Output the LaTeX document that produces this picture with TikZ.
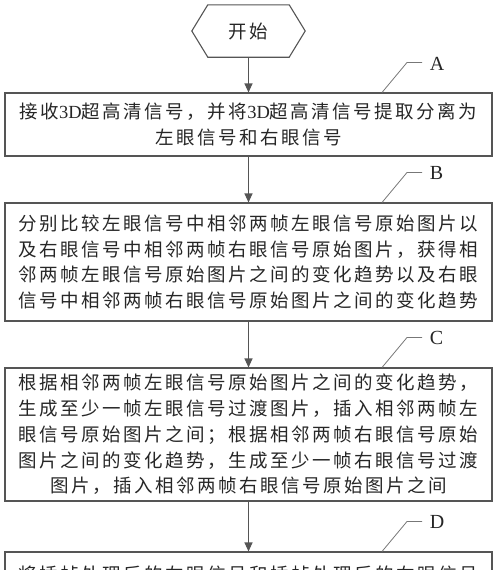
\documentclass[tikz,border=0pt]{standalone}
\usepackage{fontspec}
\setmainfont{Liberation Serif}
\newfontfamily\cjk[LetterSpace=13.5]{Noto Sans CJK SC}
\newcommand{\lat}[1]{{\rmfamily #1}}
\usetikzlibrary{calc,arrows.meta}
\definecolor{edge}{HTML}{555555}
\tikzset{
  box/.style={draw=edge, line width=1.1pt, rectangle, minimum width=487pt, align=center, inner sep=0pt,
    font=\cjk\fontsize{18.5}{25.7}\selectfont, text=black!85},
  flow/.style={draw=edge, line width=1.1pt, -{Triangle[length=9pt,width=8pt]}},
  leader/.style={draw=edge!80, line width=0.8pt},
  tag/.style={font=\fontsize{20}{22}\selectfont, text=black!85, inner sep=0pt},
  startbox/.style={rectangle, minimum width=81pt, minimum height=52pt, inner sep=0pt,
    font=\cjk\fontsize{18.5}{20}\selectfont, text=black!85}
}
\begin{document}
\begin{tikzpicture}[x=1pt,y=-1pt]
\useasboundingbox (0,0) rectangle (500,570);
\clip (0,0) rectangle (500,570);
\node[startbox] (start) at (248.5,31) {开始};
\draw[draw=edge, line width=1.1pt] (start.north west) -- (start.north east) -- ($(start.east)+(16,0)$)
  -- (start.south east) -- (start.south west) -- ($(start.west)+(-16,0)$) -- cycle;

\node[box, minimum height=63pt] (A) at (248.5,124.5)
  {接收\lat{3D}超高清信号，并将\lat{3D}超高清信号提取分离为\\左眼信号和右眼信号};
\node[box, minimum height=118pt] (B) at (248.5,262)
  {分别比较左眼信号中相邻两帧左眼信号原始图片以\\及右眼信号中相邻两帧右眼信号原始图片，获得相\\邻两帧左眼信号原始图片之间的变化趋势以及右眼\\信号中相邻两帧右眼信号原始图片之间的变化趋势};
\node[box, minimum height=133pt] (C) at (248.5,434.5)
  {根据相邻两帧左眼信号原始图片之间的变化趋势，\\生成至少一帧左眼信号过渡图片，插入相邻两帧左\\眼信号原始图片之间；根据相邻两帧右眼信号原始\\图片之间的变化趋势，生成至少一帧右眼信号过渡\\图片，插入相邻两帧右眼信号原始图片之间};
\node[box, minimum height=44pt] (D) at (248.5,574)
  {将插帧处理后的左眼信号和插帧处理后的右眼信号};

\draw[flow] (start.south) -- (A.north);
\draw[flow] (A.south) -- (B.north);
\draw[flow] (B.south) -- (C.north);
\draw[flow] (C.south) -- (D.north);

\foreach \n/\t in {A/A,B/B,C/C,D/D}{
  \node[tag, anchor=west] (tag\n) at ($(\n.north east)+(-63,-29)$) {\t};
  \draw[leader] ($(\n.north east)+(-110.5,0)$) -- ++(25,-30) -- ++(15,0);
}
\end{tikzpicture}
\end{document}
